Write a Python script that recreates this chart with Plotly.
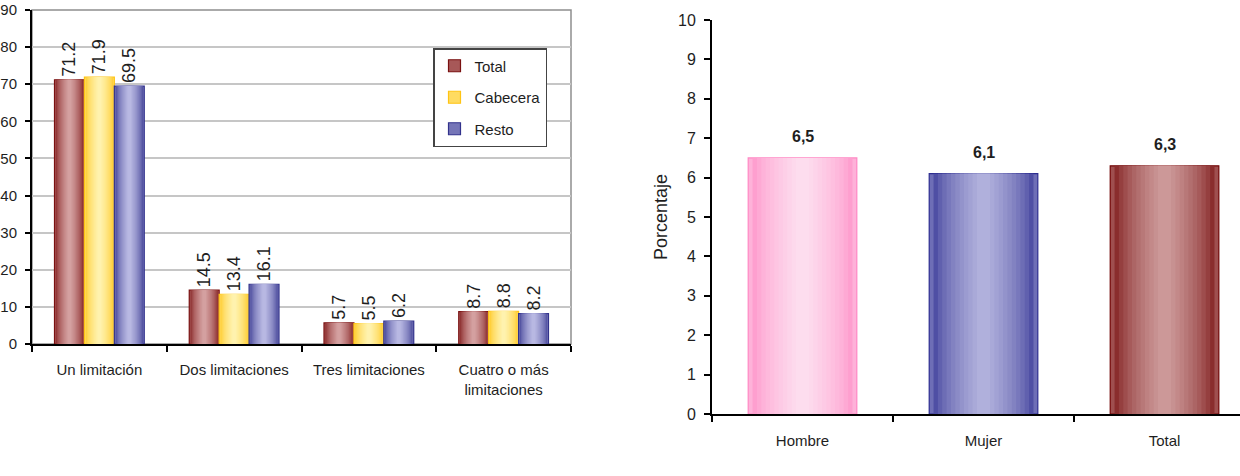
import plotly.graph_objects as go

# ---------------- data ----------------
cats_left = ["Un limitación", "Dos limitaciones", "Tres limitaciones", "Cuatro o más<br>limitaciones"]
series_names = ["Total", "Cabecera", "Resto"]
total_vals = [71.2, 14.5, 5.7, 8.7]
cabecera_vals = [71.9, 13.4, 5.5, 8.8]
resto_vals = [69.5, 16.1, 6.2, 8.2]

cats_right = ["Hombre", "Mujer", "Total"]
pct_vals = [6.5, 6.1, 6.3]

# ---------------- styling ----------------
FONT = "Liberation Sans, Arial, sans-serif"
TXT = "#1e1e1e"
W, H = 1240, 476

left_edges = ["#7A1010", "#FFC414", "#32328C"]
left_centers = ["#D4A0A0", "#FFF2AE", "#B8B8E2"]
right_edges = ["#FF88C4", "#2C2C90", "#720606"]
right_centers = ["#FDDDEE", "#B0B0DC", "#CC9898"]

N = 12


def h2r(h):
    h = h.lstrip("#")
    return [int(h[i:i + 2], 16) for i in (0, 2, 4)]


def mix(a, b, t):
    ra, rb = h2r(a), h2r(b)
    return "rgb(%d,%d,%d)" % tuple(round(ra[i] + (rb[i] - ra[i]) * t) for i in range(3))


fig = go.Figure()

# ----- left chart: grouped bars with horizontal gradient -----
bw = 0.222
series_vals = [total_vals, cabecera_vals, resto_vals]
for s, (name, vals) in enumerate(zip(series_names, series_vals)):
    base_off = -1.5 * bw + s * bw
    for k in range(N):
        frac = k / (N - 1)
        wk = bw * (1 - 0.88 * frac)
        off = base_off + (bw - wk) / 2
        if k == 0:
            fig.add_trace(go.Bar(
                x=cats_left, y=vals, width=wk, offset=off, name=name,
                legendgroup=name, showlegend=True,
                marker=dict(color=mix(left_edges[s], left_centers[s], 0.5),
                            line=dict(color=left_edges[s], width=1.2)),
                text=[f"{v:.1f}" for v in vals], textposition="outside",
                textangle=-90, constraintext="none", cliponaxis=False,
                textfont=dict(family=FONT, size=18, color=TXT),
                xaxis="x", yaxis="y", hoverinfo="skip"))
        else:
            t = frac ** 0.55
            fig.add_trace(go.Bar(
                x=cats_left, y=vals, width=wk, offset=off, name=name,
                legendgroup=name, showlegend=False,
                marker=dict(color=mix(left_edges[s], left_centers[s], t), line=dict(width=0)),
                xaxis="x", yaxis="y", hoverinfo="skip"))

# ----- right chart -----
rw = 0.6
for k in range(N):
    frac = k / (N - 1)
    wk = rw * (1 - 0.88 * frac)
    off = -rw / 2 + (rw - wk) / 2
    if k == 0:
        cols = [mix(e, c, 0.5) for e, c in zip(right_edges, right_centers)]
        line = dict(color=right_edges, width=1.2)
    else:
        t = frac ** 0.55
        cols = [mix(e, c, t) for e, c in zip(right_edges, right_centers)]
        line = dict(width=0)
    fig.add_trace(go.Bar(
        x=cats_right, y=pct_vals, width=wk, offset=off, showlegend=False,
        marker=dict(color=cols, line=line),
        xaxis="x2", yaxis="y2", hoverinfo="skip"))

annotations = []
for c, v in zip(cats_right, pct_vals):
    annotations.append(dict(
        x=c, y=v, xref="x2", yref="y2", text=f"<b>{v:.1f}</b>".replace(".", ","),
        showarrow=False, yanchor="bottom", yshift=11,
        font=dict(family=FONT, size=16, color=TXT)))

fig.update_layout(
    width=W, height=H,
    margin=dict(l=0, r=0, t=0, b=0, autoexpand=False),
    paper_bgcolor="white", plot_bgcolor="white",
    barmode="overlay",
    font=dict(family=FONT, color=TXT),
    showlegend=True,
    legend=dict(
        x=433 / W, y=1 - 48 / H, xanchor="left", yanchor="top",
        bgcolor="white", bordercolor="#444", borderwidth=1.5,
        font=dict(family=FONT, size=15, color=TXT),
        tracegroupgap=9, traceorder="grouped",
    ),
    xaxis=dict(
        domain=[32 / W, 571 / W], type="category", range=[-0.5, 3.5],
        showline=True, linecolor="black", linewidth=2, automargin=False,
        ticks="outside", tickson="boundaries", ticklen=6, tickcolor="black", tickwidth=1.5,
        tickfont=dict(family=FONT, size=15, color=TXT),
        ticklabelstandoff=11, showgrid=False,
    ),
    yaxis=dict(
        domain=[1 - 344 / H, 1 - 10 / H], range=[0, 90], dtick=10,
        showline=True, linecolor="black", linewidth=2, automargin=False,
        ticks="outside", ticklen=5, tickcolor="black", tickwidth=1.5,
        tickfont=dict(family=FONT, size=15, color=TXT),
        ticklabelstandoff=5,
        showgrid=True, gridcolor="#C6C6C6", gridwidth=1.5, zeroline=False,
    ),
    xaxis2=dict(
        domain=[712 / W, 1.0], type="category", range=[-0.5, 2.417],
        anchor="y2", automargin=False,
        showline=True, linecolor="black", linewidth=2,
        ticks="outside", tickson="boundaries", ticklen=6, tickcolor="black", tickwidth=1.5,
        tickfont=dict(family=FONT, size=15, color=TXT),
        ticklabelstandoff=12, showgrid=False,
    ),
    yaxis2=dict(
        domain=[1 - 414 / H, 1 - 20 / H], range=[0, 10], dtick=1,
        anchor="x2", automargin=False,
        showline=True, linecolor="black", linewidth=2,
        ticks="outside", ticklen=6, tickcolor="black", tickwidth=1.5,
        tickfont=dict(family=FONT, size=16, color=TXT),
        ticklabelstandoff=5, showgrid=False, zeroline=False,
        title=dict(text="Porcentaje", standoff=6,
                   font=dict(family=FONT, size=18, color=TXT)),
    ),
    shapes=[dict(type="rect", xref="x domain", yref="y domain",
                 x0=0, x1=1, y0=0, y1=1, line=dict(color="#8E8E8E", width=1.5),
                 layer="below")],
    annotations=annotations,
)

fig.write_html("out.html")
